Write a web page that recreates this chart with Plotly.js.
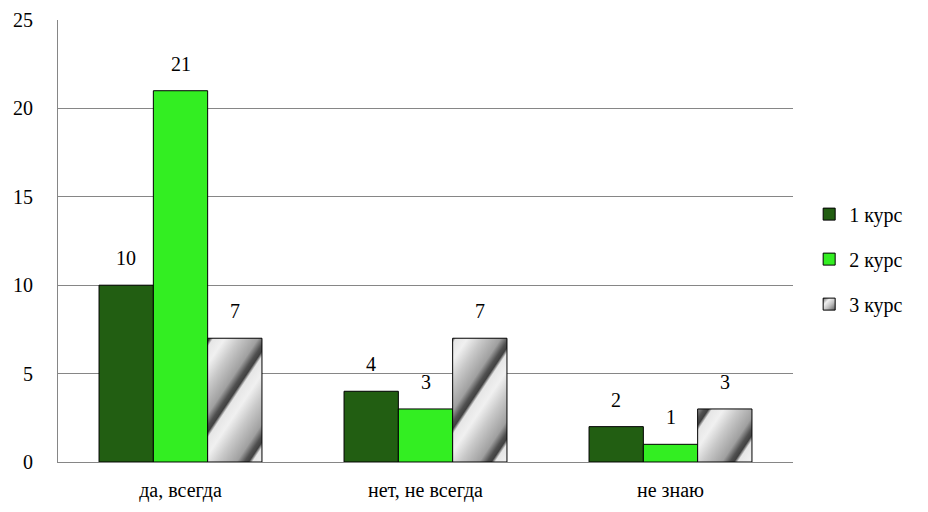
<!DOCTYPE html>
<html>
<head>
<meta charset="utf-8">
<script src="https://cdn.plot.ly/plotly-3.0.1.min.js"></script>
<style>
html,body{margin:0;padding:0;background:#fff;}
#chart text{font-family:'Liberation Serif','Times New Roman',serif !important;}
#prime{position:absolute;left:0;top:0;font-family:'Liberation Serif';font-size:20px;opacity:0.01;pointer-events:none;}
</style>
</head>
<body>
<div id="prime">0123456789 курс да, всегда нет, не всегда не знаю</div>
<div id="chart" style="width:928px;height:512px;"></div>
<script>
const categories = ["да, всегда", "нет, не всегда", "не знаю"];
const seriesNames = ["1 курс", "2 курс", "3 курс"];
const course1 = [10, 4, 2];
const course2 = [21, 3, 1];
const course3 = [7, 7, 3];
const yTicks = [0, 5, 10, 15, 20, 25];

function mkFont() { return {family: "Liberation Serif", size: 20, color: "#000000"}; }
const allSeries = [course1, course2, course3];

const plotWidth = 928 - 58 - 135;
const bargap = 0.335;
const barWidth = plotWidth / categories.length * (1 - bargap) / allSeries.length;

const traces = [
  {
    type: "bar", name: seriesNames[0], x: categories, y: course1,
    legendgroup: "a",
    marker: {color: "#225e12", line: {color: "#000", width: 1}}
  },
  {
    type: "bar", name: seriesNames[1], x: categories, y: course2,
    legendgroup: "b",
    marker: {color: "#33ee22", line: {color: "#000", width: 1}}
  },
  {
    type: "bar", name: seriesNames[2], x: categories, y: course3,
    legendgroup: "c",
    marker: {color: "#c8c8c8", line: {color: "#000", width: 1}}
  }
];

const annotations = [];
allSeries.forEach((vals, si) => {
  vals.forEach((v, ci) => {
    annotations.push({
      x: categories[ci], y: v, xref: "x", yref: "y",
      text: String(v), showarrow: false, font: mkFont(),
      yanchor: "bottom", xshift: (si - 1) * barWidth, yshift: 14
    });
  });
});

const layout = {
  width: 928, height: 512,
  margin: {l: 58, r: 135, t: 20, b: 50},
  paper_bgcolor: "#fff", plot_bgcolor: "#fff",
  font: mkFont(),
  barmode: "group",
  bargap: bargap, bargroupgap: 0,
  showlegend: true,
  annotations: annotations,
  legend: {
    x: 1.022, y: 0.459, yanchor: "middle", xanchor: "left",
    font: mkFont(), tracegroupgap: 16, itemwidth: 30
  },
  xaxis: {
    showline: true, linecolor: "#868686", linewidth: 1,
    ticks: "outside", ticklen: 10, tickcolor: "rgba(0,0,0,0)",
    tickfont: mkFont(), showgrid: false
  },
  yaxis: {
    range: [0, 25], tickvals: yTicks, ticktext: yTicks.map(String),
    showline: true, linecolor: "#868686", linewidth: 1,
    showgrid: true, gridcolor: "#868686", gridwidth: 1,
    ticks: "outside", ticklen: 20, tickcolor: "rgba(0,0,0,0)",
    tickfont: mkFont(), zeroline: false
  }
};

function addGradient(defs, id, attrs, stops) {
  const ns = "http://www.w3.org/2000/svg";
  const g = document.createElementNS(ns, "linearGradient");
  g.setAttribute("id", id);
  Object.keys(attrs).forEach(k => g.setAttribute(k, attrs[k]));
  stops.forEach(s => {
    const st = document.createElementNS(ns, "stop");
    st.setAttribute("offset", s[0]);
    st.setAttribute("stop-color", s[1]);
    g.appendChild(st);
  });
  defs.appendChild(g);
}

function applyMetal() {
  const svg = document.querySelector("#chart svg.main-svg");
  if (!svg) return;
  let defs = svg.querySelector("defs");
  if (!defs) { defs = document.createElementNS("http://www.w3.org/2000/svg", "defs"); svg.insertBefore(defs, svg.firstChild); }
  const metalStops = [["0", "#404040"], ["0.06", "#e6e6e6"], ["0.25", "#f0f0f0"], ["0.5", "#c8c8c8"], ["0.8", "#a0a0a0"], ["0.93", "#505050"], ["1", "#404040"]];
  addGradient(defs, "metalBars", {gradientUnits: "userSpaceOnUse", x1: "0", y1: "0", x2: "42", y2: "28", spreadMethod: "repeat"}, metalStops);
  addGradient(defs, "metalLegend", {x1: "0", y1: "0", x2: "1", y2: "1"}, [["0", "#6a6a6a"], ["0.3", "#f0f0f0"], ["0.6", "#c0c0c0"], ["1", "#5a5a5a"]]);
  const barTraces = document.querySelectorAll("#chart .barlayer .trace.bars");
  if (barTraces[2]) barTraces[2].querySelectorAll("path").forEach(p => { p.style.fill = "url(#metalBars)"; });
  const legTraces = document.querySelectorAll("#chart .legend .traces");
  if (legTraces[2]) legTraces[2].querySelectorAll(".legendpoints path").forEach(p => { p.style.fill = "url(#metalLegend)"; });
}

Plotly.newPlot("chart", traces, layout, {displayModeBar: false, staticPlot: true}).then(applyMetal);
</script>
</body>
</html>
